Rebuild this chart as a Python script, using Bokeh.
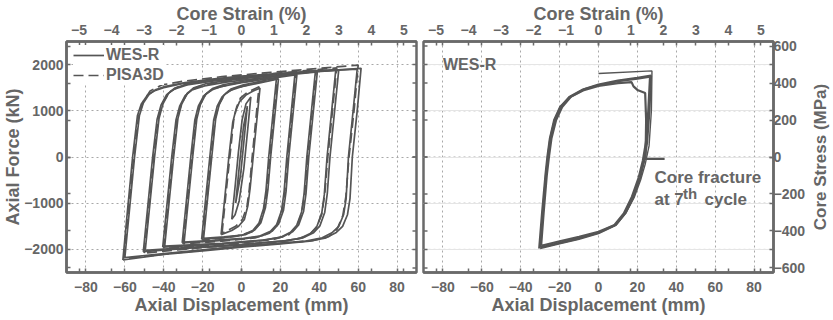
import math
from bokeh.plotting import figure
from bokeh.models import Range1d, LinearAxis, FixedTicker, Legend, LegendItem, Label, Title
from bokeh.layouts import row
from bokeh.embed import file_html
from bokeh.resources import INLINE

# ---------------- axes / ticks ----------------
disp_ticks = [-80, -60, -40, -20, 0, 20, 40, 60, 80]
force_ticks = [-2000, -1000, 0, 1000, 2000]
strain_ticks = [-5, -4, -3, -2, -1, 0, 1, 2, 3, 4, 5]
stress_ticks = [-600, -400, -200, 0, 200, 400, 600]
MM_PER_PCT = 16.71      # core length conversion (mm per 1 % strain)
KN_PER_MPA = 4.0        # core area conversion (kN per 1 MPa)
X_LIM = 90
Y_LIM = 2500

# ---------------- left panel: WES-R test (solid) ----------------
wes_e1_x = [-5, -3.2, -1.6, 0.3, 2.3, 4.8, 3.2, 1.2, -1.2, -3.3, -5]
wes_e1_y = [-1350, -600, 100, 800, 1150, 1300, 600, -250, -950, -1250, -1350]
wes_e2_x = [-3, -1, 1, 3, 1.5, -0.5, -3]
wes_e2_y = [-1000, -150, 650, 1100, 450, -400, -1000]
wes_10_x = [-10.5, -8.5, -6.5, -4.5, -3, -1, 2.5, 6, 9.5, 6, 4.5, 3.3, 1.5, -1.5, -5, -10.5]
wes_10_y = [-1680, -840, 0, 750, 1000, 1200, 1350, 1430, 1490, 0, -650, -1050, -1350, -1500, -1590, -1680]
wes_20_x = [-20.5, -18.4, -16.3, -14.3, -12.5, -10, -6.5, 0, 10, 19, 15, 13.6, 12.3, 10, 6.8, 2, -8, -20.5]
wes_20_y = [-1780, -890, 0, 800, 1100, 1300, 1430, 1520, 1610, 1690, 0, -700, -1100, -1420, -1580, -1680, -1740, -1780]
wes_20b_x = [-19.5, -17.4, -15.3, -13.3, -11.5, -9, -5.5, 1, 10, 18, 14, 12.6, 11.3, 9, 5.8, 0.5, -9, -19.5]
wes_20b_y = [-1760, -880, 0, 820, 1130, 1340, 1470, 1560, 1640, 1710, 0, -720, -1120, -1430, -1590, -1690, -1730, -1760]
wes_30_x = [-30.5, -28.3, -26.1, -24, -22.2, -19.5, -16, -10, 0, 15, 28.5, 24.3, 22.9, 21.6, 19.1, 15.9, 10.4, 2, -15, -30.5]
wes_30_y = [-1860, -930, 0, 800, 1100, 1320, 1440, 1530, 1610, 1700, 1780, 0, -750, -1150, -1450, -1600, -1710, -1770, -1820, -1860]
wes_30b_x = [-29.5, -27.3, -25.1, -23, -21.2, -18.5, -15, -9, 1, 15, 27.5, 23.3, 21.9, 20.6, 18.1, 14.9, 9.4, 1, -15, -29.5]
wes_30b_y = [-1840, -920, 0, 820, 1130, 1350, 1480, 1570, 1640, 1730, 1800, 0, -760, -1160, -1460, -1610, -1710, -1760, -1805, -1840]
wes_40_x = [-40.5, -38.2, -35.9, -33.7, -31.8, -29, -25.5, -19, -8, 10, 25, 39, 34.6, 33.2, 31.9, 29.4, 26.2, 21, 12, -10, -40.5]
wes_40_y = [-1950, -975, 0, 800, 1100, 1330, 1450, 1540, 1620, 1710, 1780, 1840, 0, -780, -1180, -1470, -1620, -1730, -1800, -1880, -1950]
wes_40b_x = [-39.5, -37.2, -34.9, -32.7, -30.8, -28, -24.5, -18, -7, 10, 25, 38, 33.6, 32.2, 30.9, 28.4, 25.2, 19.9, 11, -10, -39.5]
wes_40b_y = [-1930, -965, 0, 830, 1140, 1370, 1500, 1590, 1660, 1740, 1800, 1850, 0, -790, -1190, -1480, -1630, -1740, -1800, -1870, -1930]
wes_50_x = [-50.5, -48.1, -45.7, -43.4, -41.4, -38.5, -35, -28, -15, 5, 30, 50, 45.5, 44.1, 42.8, 40.3, 37.1, 31.7, 23, 0, -25, -50.5]
wes_50_y = [-2050, -1025, 0, 820, 1120, 1350, 1460, 1560, 1640, 1730, 1820, 1880, 0, -800, -1200, -1490, -1640, -1750, -1810, -1900, -1970, -2050]
wes_50b_x = [-49.5, -47.1, -44.7, -42.4, -40.4, -37.5, -34, -27, -14, 5, 30, 48.5, 44, 42.6, 41.3, 38.8, 35.6, 30.2, 21, 0, -25, -49.5]
wes_50b_y = [-2020, -1010, 0, 840, 1150, 1380, 1500, 1590, 1670, 1750, 1830, 1890, 0, -810, -1210, -1500, -1650, -1760, -1820, -1890, -1950, -2020]
wes_60_x = [-61, -58.5, -56, -53.5, -51.5, -48.5, -45, -40, -30, -15, 0, 20, 40, 61.5, 59.5, 57, 55.8, 54.5, 52, 48.5, 43.5, 35, 20, 0, -20, -40, -61]
wes_60_y = [-2230, -1100, 0, 900, 1150, 1330, 1430, 1500, 1590, 1670, 1730, 1800, 1860, 1920, 1000, 0, -900, -1250, -1500, -1640, -1750, -1820, -1880, -1950, -2030, -2110, -2230]
wes_60b_x = [-60, -57.5, -55, -52.5, -50.5, -47.5, -44, -39, -29, -14, 0, 20, 40, 59.5, 57.4, 55, 53.8, 52.5, 50, 46.5, 41.5, 33, 18, 0, -20, -40, -60]
wes_60b_y = [-2180, -1090, 0, 900, 1170, 1360, 1460, 1530, 1610, 1690, 1750, 1810, 1860, 1900, 1000, 0, -900, -1250, -1500, -1640, -1750, -1820, -1870, -1930, -2010, -2090, -2180]

# ---------------- left panel: PISA3D analysis (dashed) ----------------
pisa_10_x = [-10, -8, -6, -4, -2.5, -0.5, 3, 9, 5.5, 4, 2.8, 0.5, -3, -10]
pisa_10_y = [-1650, -800, 0, 800, 1080, 1280, 1400, 1520, 0, -700, -1080, -1350, -1500, -1650]
pisa_20_x = [-20, -17.8, -15.7, -13.5, -11.5, -8.5, -4, 5, 18.5, 14.5, 13, 11.6, 9.1, 5.4, -3, -20]
pisa_20_y = [-1800, -900, 0, 850, 1150, 1360, 1480, 1580, 1700, 0, -750, -1150, -1460, -1620, -1720, -1800]
pisa_30_x = [-30, -27.8, -25.5, -23.3, -21.2, -18.2, -13.5, -4, 12, 28, 23.7, 22.2, 20.7, 18.1, 14.4, 7, -10, -30]
pisa_30_y = [-1880, -940, 0, 850, 1150, 1370, 1490, 1590, 1700, 1800, 0, -780, -1200, -1490, -1650, -1750, -1820, -1880]
pisa_40_x = [-40, -37.7, -35.3, -33, -30.8, -27.6, -22.5, -12, 8, 38.5, 34, 32.5, 30.9, 28.2, 24.4, 17, 0, -40]
pisa_40_y = [-1980, -990, 0, 850, 1160, 1390, 1520, 1620, 1730, 1870, 0, -800, -1230, -1520, -1680, -1780, -1860, -1980]
pisa_50_x = [-50, -47.5, -45.1, -42.7, -40.4, -37, -31.5, -20, 0, 25, 49, 44.4, 42.8, 41.2, 38.4, 34.4, 26.5, 10, -20, -50]
pisa_50_y = [-2080, -1040, 0, 870, 1180, 1410, 1540, 1640, 1740, 1840, 1930, 0, -820, -1250, -1540, -1700, -1800, -1870, -1960, -2080]
pisa_60_x = [-60.5, -58, -55.4, -52.9, -50.5, -47, -41, -30, -10, 15, 40, 60, 58, 55.3, 53.7, 52.1, 49.2, 45, 36.5, 20, 0, -30, -60.5]
pisa_60_y = [-2200, -1100, 0, 900, 1200, 1430, 1560, 1640, 1740, 1830, 1920, 1990, 1050, 0, -850, -1270, -1560, -1720, -1810, -1870, -1930, -2060, -2200]

# ---------------- right panel: WES-R constant amplitude (stress, MPa) ----------------
cyc0_x = [0, 27.5, 27.2, 26, 24, 21.8, 18.3, 14, 9, 0, -10, -20, -30]
cyc0_y = [452, 466, 250, 60, -40, -120, -220, -305, -370, -415, -445, -470, -495]
cyc1_x = [-30, -28.6, -27, -26, -24.8, -22.5, -19.5, -15, -8, 0, 10, 20, 27, 26.2, 25, 23.5, 21.5, 18, 14, 9, 0, -10, -20, -30]
cyc1_y = [-490, -300, -100, 0, 100, 200, 270, 325, 365, 392, 413, 428, 440, 250, 80, -20, -110, -215, -300, -365, -410, -440, -465, -490]
cyc2_x = [-29.5, -28.2, -26.6, -25.5, -24.2, -21.8, -18.7, -14, -7, 0, 10, 20, 26.5, 25.6, 24.4, 22.8, 20.7, 17.2, 13, 8, 0, -10, -20, -29.5]
cyc2_y = [-480, -300, -100, 0, 100, 200, 270, 328, 368, 388, 410, 424, 435, 250, 80, -20, -110, -215, -305, -370, -405, -432, -456, -480]
cyc7_x = [-30.5, -29, -27.3, -26.3, -25, -22.8, -19.8, -15, -8, 0, 10, 17, 18, 20, 24, 24.5, 24.2, 24, 34]
cyc7_y = [-495, -300, -100, 0, 100, 200, 270, 322, 360, 385, 400, 405, 382, 363, 346, 200, 0, -10, -10]

TXT = "#666666"
FRAME = "#6a6a6a"
LINE = "#555555"
GRID = "#a8a8a8"
FONT = "Liberation Sans"
FRAME_W = 350
FRAME_H = 231
TICK_PX = 4


def style_axis(ax, label=None, standoff=4, label_standoff=0):
    ax.major_tick_in = TICK_PX
    ax.major_tick_out = 0
    ax.minor_tick_in = TICK_PX
    ax.minor_tick_out = 0
    ax.major_tick_line_color = FRAME
    ax.minor_tick_line_color = FRAME
    ax.major_tick_line_width = 1.5
    ax.minor_tick_line_width = 1.5
    ax.axis_line_color = FRAME
    ax.axis_line_width = 2.5
    ax.major_label_text_font = FONT
    ax.major_label_text_font_style = "bold"
    ax.major_label_text_color = TXT
    ax.major_label_text_font_size = "14px"
    ax.major_label_standoff = standoff
    if label:
        ax.axis_label = label
        ax.axis_label_text_font = FONT
        ax.axis_label_text_font_style = "bold"
        ax.axis_label_text_font_size = "18px"
        ax.axis_label_text_color = TXT
        ax.axis_label_standoff = label_standoff


def make_panel(bl, br, left_side):
    p = figure(frame_width=FRAME_W, frame_height=FRAME_H,
               x_range=Range1d(-X_LIM, X_LIM), y_range=Range1d(-Y_LIM, Y_LIM),
               output_backend="svg", toolbar_location=None,
               y_axis_location="left" if left_side else None,
               min_border_left=bl, min_border_right=br, min_border_top=34, min_border_bottom=38)
    p.background_fill_color = "white"
    p.border_fill_color = "white"
    p.outline_line_color = FRAME
    p.outline_line_width = 2.5
    p.extra_x_ranges = {"strain": Range1d(-X_LIM / MM_PER_PCT, X_LIM / MM_PER_PCT)}
    p.extra_y_ranges = {"stress": Range1d(-Y_LIM / KN_PER_MPA, Y_LIM / KN_PER_MPA)}

    xb = p.xaxis[0]
    xb.ticker = FixedTicker(ticks=disp_ticks, minor_ticks=[s * MM_PER_PCT for s in strain_ticks])
    style_axis(xb, "Axial Displacement (mm)", standoff=9, label_standoff=0)

    xt = LinearAxis(x_range_name="strain")
    xt.ticker = FixedTicker(ticks=strain_ticks, minor_ticks=[d / MM_PER_PCT for d in disp_ticks])
    style_axis(xt, "Core Strain (%)", standoff=7, label_standoff=-2)
    p.add_layout(xt, "above")

    # tick marks along the inner (unlabelled) vertical edge, taken from the tick arrays
    tick_dx = TICK_PX * (2 * X_LIM) / FRAME_W
    edge = X_LIM if left_side else -X_LIM
    inner = edge - tick_dx if left_side else edge + tick_dx
    ys = force_ticks + [s * KN_PER_MPA for s in stress_ticks]
    p.segment(x0=[edge] * len(ys), y0=ys, x1=[inner] * len(ys), y1=ys,
              line_color=FRAME, line_width=1.5)

    if left_side:
        yl = p.yaxis[0]
        yl.ticker = FixedTicker(ticks=force_ticks, minor_ticks=[s * KN_PER_MPA for s in stress_ticks])
        style_axis(yl, "Axial Force (kN)", standoff=3, label_standoff=-2)
    else:
        yr = LinearAxis(y_range_name="stress")
        yr.ticker = FixedTicker(ticks=stress_ticks, minor_ticks=[f / KN_PER_MPA for f in force_ticks])
        style_axis(yr, None, standoff=0)
        p.add_layout(yr, "right")

    xg = p.xgrid[0]
    xg.grid_line_color = GRID
    xg.grid_line_dash = "2 3"
    xg.grid_line_width = 1
    if left_side:
        yg = p.ygrid[0]
        yg.grid_line_color = GRID
        yg.grid_line_dash = "2 3"
        yg.grid_line_width = 1
    else:
        # horizontal grid at force ticks, as in the left panel
        p.segment(x0=[-X_LIM] * len(force_ticks), y0=force_ticks, x1=[X_LIM] * len(force_ticks),
                  y1=force_ticks, line_color=GRID, line_dash="2 3", line_width=1, level="underlay")
    return p


# ---------------- left panel ----------------
p1 = make_panel(59, 3, True)
r_wes = p1.multi_line(
    xs=[wes_e1_x, wes_e2_x, wes_10_x, wes_20_x, wes_20b_x, wes_30_x, wes_30b_x, wes_40_x, wes_40b_x,
        wes_50_x, wes_50b_x, wes_60_x, wes_60b_x],
    ys=[wes_e1_y, wes_e2_y, wes_10_y, wes_20_y, wes_20b_y, wes_30_y, wes_30b_y, wes_40_y, wes_40b_y,
        wes_50_y, wes_50b_y, wes_60_y, wes_60b_y],
    line_color=LINE, line_width=1.7)
r_pisa = p1.multi_line(
    xs=[pisa_10_x, pisa_20_x, pisa_30_x, pisa_40_x, pisa_50_x, pisa_60_x],
    ys=[pisa_10_y, pisa_20_y, pisa_30_y, pisa_40_y, pisa_50_y, pisa_60_y],
    line_color=LINE, line_width=1.7, line_dash="10 5")
legend = Legend(items=[LegendItem(label="WES-R", renderers=[r_wes]),
                       LegendItem(label="PISA3D", renderers=[r_pisa])],
                location=(7, FRAME_H - 44), margin=0, padding=6, spacing=0,
                label_height=20, glyph_height=20, glyph_width=31, label_standoff=2,
                label_text_font=FONT, label_text_font_style="bold", label_text_font_size="16px",
                label_text_color=TXT, background_fill_color="white", background_fill_alpha=1.0,
                border_line_color=None)
p1.add_layout(legend)

# ---------------- right panel ----------------
p2 = make_panel(4, 0, False)
p2.multi_line(xs=[cyc1_x, cyc2_x, cyc7_x], ys=[cyc1_y, cyc2_y, cyc7_y],
              line_color=LINE, line_width=2.2, y_range_name="stress")
p2.line(cyc0_x, cyc0_y, line_color=LINE, line_width=1.4, y_range_name="stress")


def lab(x, y, text, size="17px"):
    return Label(x=x, y=y, text=text, text_font=FONT, text_font_style="bold",
                 text_font_size=size, text_color=TXT, text_align="left", text_baseline="middle")


p2.add_layout(lab(-80, 2000, "WES-R", "16px"))
p2.add_layout(lab(28.8, -444, "Core fracture"))
p2.add_layout(lab(28.8, -920, "at 7"))
p2.add_layout(lab(43.4, -790, "th", "15px"))
p2.add_layout(lab(54.5, -920, "cycle"))

# ---------------- stress-axis title strip (reads bottom-to-top like the reference) ----------------
p3 = figure(frame_width=1, frame_height=FRAME_H, output_backend="svg", toolbar_location=None,
            x_axis_location=None, y_axis_location=None,
            min_border_left=0, min_border_right=0, min_border_top=34, min_border_bottom=38)
p3.outline_line_color = None
p3.background_fill_color = "white"
p3.border_fill_color = "white"
p3.xgrid.visible = False
p3.ygrid.visible = False
p3.add_layout(Title(text="Core Stress (MPa)", align="center", standoff=0, text_font=FONT,
                    text_font_size="17px", text_font_style="bold", text_color=TXT), "left")

layout = row(p1, p2, p3)
open("out.html", "w").write(file_html(layout, INLINE))
